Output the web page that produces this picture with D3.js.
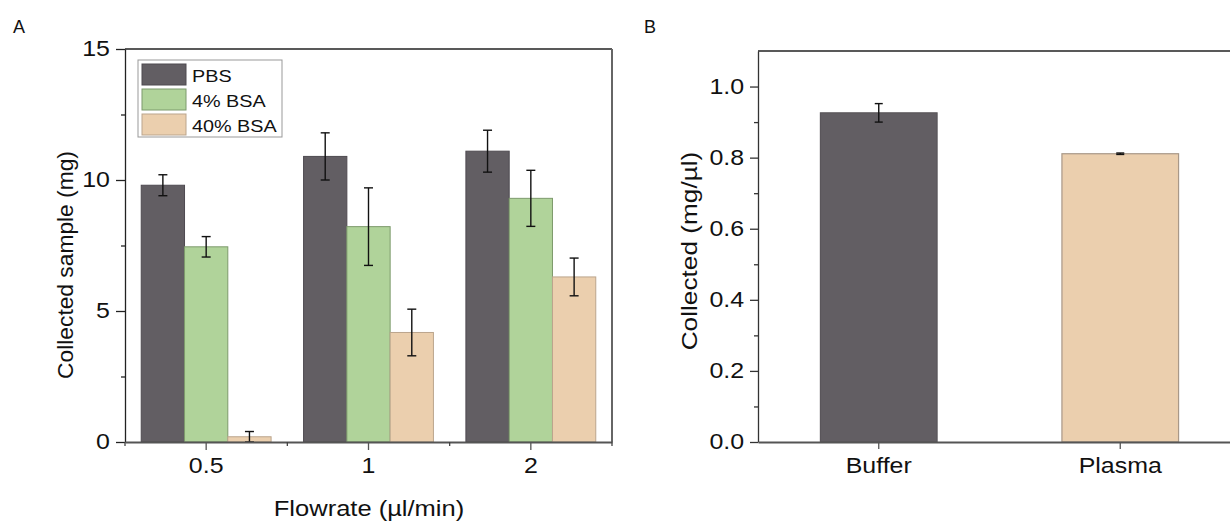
<!DOCTYPE html>
<html>
<head>
<meta charset="utf-8">
<script src="https://cdn.jsdelivr.net/npm/d3@7"></script>
<style>
  body { margin: 0; background: #fff; }
  svg { display: block; font-family: "Liberation Sans", Arial, sans-serif; }
</style>
</head>
<body>
<div id="chart"></div>
<script>
// panel A data
const flowrates = ["0.5", "1", "2"];
const series = ["PBS", "4% BSA", "40% BSA"];
const pbsMean = [9.8, 10.9, 11.1];
const pbsErr = [0.4, 0.9, 0.8];
const bsa4Mean = [7.45, 8.22, 9.3];
const bsa4Err = [0.39, 1.48, 1.07];
const bsa40Mean = [0.2, 4.18, 6.3];
const bsa40Err = [0.2, 0.89, 0.72];
const yTicksA = [0, 5, 10, 15];
const yMinorA = [2.5, 7.5, 12.5];

// panel B data
const sampleTypes = ["Buffer", "Plasma"];
const collectedMean = [0.926, 0.811];
const collectedErr = [0.026, 0.002];
const yTicksB = [0, 0.2, 0.4, 0.6, 0.8, 1.0];
const yMinorB = [0.1, 0.3, 0.5, 0.7, 0.9];

const fills = {"PBS": "#625e63", "4% BSA": "#b0d39a", "40% BSA": "#ebcfae"};
const strokes = {"PBS": "#4e4a50", "4% BSA": "#7d9a6c", "40% BSA": "#bba58d"};
const SX = 1.16; // text in the source is a bit wider than Arial

const svg = d3.select("#chart").append("svg")
    .attr("width", 1230)
    .attr("height", 521);

function label(x, y, txt, size, anchor, rot, sx) {
    svg.append("text")
        .attr("transform", "translate(" + x + "," + y + ")" + (rot ? " rotate(-90)" : "") + " scale(" + (sx || SX) + ",1)")
        .attr("text-anchor", anchor || "middle")
        .attr("font-size", size)
        .attr("fill", "#111")
        .text(txt);
}

function styleAxis(g, color, width) {
    g.select(".domain").attr("stroke", color).attr("stroke-width", width);
    g.selectAll(".tick line").attr("stroke", color).attr("stroke-width", 1.3);
    g.selectAll(".tick text")
        .attr("font-size", 21.5)
        .attr("fill", "#111")
        .attr("font-family", "Liberation Sans, Arial, sans-serif")
        .attr("transform", "scale(" + SX + ",1)");
}

// ---------- panel A ----------
const a = {left: 125, right: 612, top: 49, bottom: 442};

const x0 = d3.scaleBand().domain(flowrates).range([a.left, a.right]).padding(0);
const x1 = d3.scaleBand().domain(series).range([0, x0.bandwidth() * 0.8]);
const yA = d3.scaleLinear().domain([0, 15]).range([a.bottom, a.top]);

const rowsA = flowrates.map((f, i) => ({
    flow: f,
    vals: [
        {s: "PBS", m: pbsMean[i], e: pbsErr[i]},
        {s: "4% BSA", m: bsa4Mean[i], e: bsa4Err[i]},
        {s: "40% BSA", m: bsa40Mean[i], e: bsa40Err[i]}
    ]
}));

const gA = svg.append("g");
const groupOff = x0.bandwidth() * 0.1;

gA.selectAll("g.grp")
    .data(rowsA)
    .join("g")
    .attr("class", "grp")
    .attr("transform", d => "translate(" + (x0(d.flow) + groupOff) + ",0)")
    .each(function (d) {
        const g = d3.select(this);
        g.selectAll("rect")
            .data(d.vals)
            .join("rect")
            .attr("x", v => x1(v.s))
            .attr("width", x1.bandwidth())
            .attr("y", v => yA(v.m))
            .attr("height", v => yA(0) - yA(v.m))
            .attr("fill", v => fills[v.s])
            .attr("stroke", v => strokes[v.s])
            .attr("stroke-width", 1);
        const eb = g.selectAll("g.err").data(d.vals).join("g").attr("class", "err")
            .attr("transform", v => "translate(" + (x1(v.s) + x1.bandwidth() / 2) + ",0)");
        eb.append("line")
            .attr("y1", v => yA(v.m + v.e)).attr("y2", v => yA(Math.max(0, v.m - v.e)))
            .attr("stroke", "#111").attr("stroke-width", 1.4);
        eb.append("line")
            .attr("x1", -4.5).attr("x2", 4.5)
            .attr("y1", v => yA(v.m + v.e)).attr("y2", v => yA(v.m + v.e))
            .attr("stroke", "#111").attr("stroke-width", 1.4);
        eb.append("line")
            .attr("x1", -4.5).attr("x2", 4.5)
            .attr("y1", v => yA(Math.max(0, v.m - v.e))).attr("y2", v => yA(Math.max(0, v.m - v.e)))
            .attr("stroke", "#111").attr("stroke-width", 1.4);
    });

// frame: top and right
gA.append("line").attr("x1", a.left).attr("x2", a.right).attr("y1", a.top).attr("y2", a.top)
    .attr("stroke", "#222").attr("stroke-width", 1.5);
gA.append("line").attr("x1", a.right).attr("x2", a.right).attr("y1", a.top).attr("y2", a.bottom)
    .attr("stroke", "#666").attr("stroke-width", 2);

// y axis A
const yAxA = gA.append("g").attr("transform", "translate(" + a.left + ",0)")
    .call(d3.axisLeft(yA).tickValues(yTicksA).tickSize(9).tickSizeOuter(0).tickPadding(4).tickFormat(d3.format("d")));
styleAxis(yAxA, "#222", 1.3);
gA.append("g").attr("transform", "translate(" + a.left + ",0)")
    .call(d3.axisLeft(yA).tickValues(yMinorA).tickSize(4).tickSizeOuter(0).tickFormat(""))
    .call(g => { g.select(".domain").remove(); g.selectAll("line").attr("stroke", "#222").attr("stroke-width", 1.3); });

// x axis A
const xAxA = gA.append("g").attr("transform", "translate(0," + a.bottom + ")")
    .call(d3.axisBottom(x0).tickSize(8).tickSizeOuter(0).tickPadding(8));
styleAxis(xAxA, "#555", 2);
const bounds = flowrates.map(f => x0(f)).concat([a.right]);
xAxA.selectAll("line.minor").data(bounds).join("line").attr("class", "minor")
    .attr("x1", d => d).attr("x2", d => d).attr("y1", 0).attr("y2", 4)
    .attr("stroke", "#444").attr("stroke-width", 1.3);

// legend
const leg = gA.append("g");
leg.append("rect").attr("x", 138).attr("y", 60).attr("width", 144).attr("height", 77)
    .attr("fill", "#fff").attr("stroke", "#999").attr("stroke-width", 1);
series.forEach((s, i) => {
    leg.append("rect").attr("x", 142).attr("y", 64 + i * 25).attr("width", 44).attr("height", 21)
        .attr("fill", fills[s]).attr("stroke", strokes[s]).attr("stroke-width", 1);
    leg.append("text")
        .attr("transform", "translate(192," + (81.5 + i * 25) + ") scale(1.2,1)")
        .attr("font-size", 16.5).attr("fill", "#111").text(s);
});

label(369, 516, "Flowrate (\u00b5l/min)", 22, "middle");
label(73, 265, "Collected sample (mg)", 21.5, "middle", true, 1.06);
label(19, 33, "A", 18, "middle", false, 1);

// ---------- panel B ----------
const b = {left: 758, right: 1241, top: 51, bottom: 442};
const xB = d3.scaleBand().domain(sampleTypes).range([b.left, b.right]).paddingInner(0.517).paddingOuter(0.2585);
const yB = d3.scaleLinear().domain([0, 1.1]).range([b.bottom, b.top]);
const rowsB = sampleTypes.map((t, i) => ({t: t, m: collectedMean[i], e: collectedErr[i]}));
const fillB = {"Buffer": fills["PBS"], "Plasma": fills["40% BSA"]};
const strokeB = {"Buffer": "#5a565b", "Plasma": "#a89888"};

const gB = svg.append("g");
gB.selectAll("rect.bar").data(rowsB).join("rect").attr("class", "bar")
    .attr("x", d => xB(d.t)).attr("width", xB.bandwidth())
    .attr("y", d => yB(d.m)).attr("height", d => yB(0) - yB(d.m))
    .attr("fill", d => fillB[d.t]).attr("stroke", d => strokeB[d.t]).attr("stroke-width", 1.2);

const ebB = gB.selectAll("g.err").data(rowsB).join("g").attr("class", "err")
    .attr("transform", d => "translate(" + (xB(d.t) + xB.bandwidth() / 2) + ",0)");
ebB.append("line").attr("y1", d => yB(d.m + d.e)).attr("y2", d => yB(d.m - d.e))
    .attr("stroke", "#111").attr("stroke-width", 1.4);
ebB.append("line").attr("x1", -4).attr("x2", 4)
    .attr("y1", d => yB(d.m + d.e)).attr("y2", d => yB(d.m + d.e)).attr("stroke", "#111").attr("stroke-width", 1.4);
ebB.append("line").attr("x1", -4).attr("x2", 4)
    .attr("y1", d => yB(d.m - d.e)).attr("y2", d => yB(d.m - d.e)).attr("stroke", "#111").attr("stroke-width", 1.4);

gB.append("line").attr("x1", b.left).attr("x2", 1230).attr("y1", b.top).attr("y2", b.top)
    .attr("stroke", "#222").attr("stroke-width", 1.5);

const yAxB = gB.append("g").attr("transform", "translate(" + b.left + ",0)")
    .call(d3.axisLeft(yB).tickValues(yTicksB).tickSize(8).tickSizeOuter(0).tickPadding(4).tickFormat(d3.format(".1f")));
styleAxis(yAxB, "#333", 1.3);
gB.append("g").attr("transform", "translate(" + b.left + ",0)")
    .call(d3.axisLeft(yB).tickValues(yMinorB).tickSize(4).tickSizeOuter(0).tickFormat(""))
    .call(g => { g.select(".domain").remove(); g.selectAll("line").attr("stroke", "#333").attr("stroke-width", 1.3); });

const xAxB = gB.append("g").attr("transform", "translate(0," + b.bottom + ")")
    .call(d3.axisBottom(xB).tickSize(7).tickSizeOuter(0).tickPadding(9));
styleAxis(xAxB, "#555", 2);

label(697, 251, "Collected (mg/\u00b5l)", 21.5, "middle", true, 1.22);
label(650, 33, "B", 18, "middle", false, 1);
</script>
</body>
</html>
